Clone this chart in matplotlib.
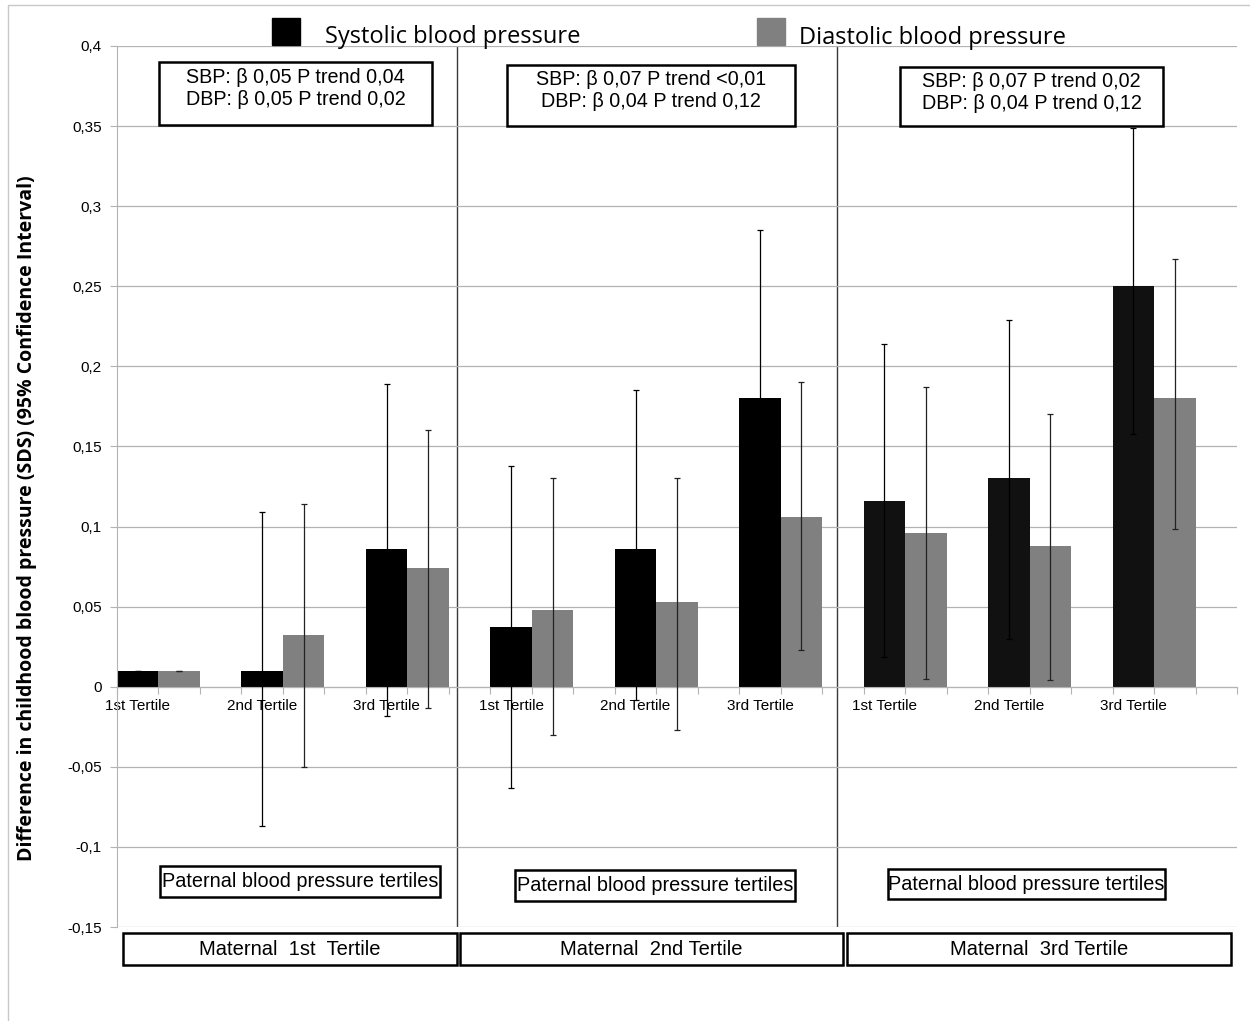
import numpy as np
import matplotlib
matplotlib.use("Agg")
import matplotlib.pyplot as plt
from matplotlib.patches import Rectangle
from matplotlib.lines import Line2D

plt.rcParams["font.family"] = ["Liberation Sans", "DejaVu Sans"]

# data
panels = ["Maternal  1st  Tertile", "Maternal  2nd Tertile", "Maternal  3rd Tertile"]
tertiles = ["1st Tertile", "2nd Tertile", "3rd Tertile"]

sbp = [0.010, 0.010, 0.086, 0.037, 0.086, 0.180, 0.116, 0.130, 0.250]
sbp_lo = [0.010, -0.087, -0.018, -0.063, -0.008, 0.075, 0.0185, 0.030, 0.158]
sbp_hi = [0.010, 0.109, 0.189, 0.138, 0.185, 0.285, 0.214, 0.229, 0.349]

dbp = [0.010, 0.032, 0.074, 0.048, 0.053, 0.106, 0.096, 0.088, 0.180]
dbp_lo = [0.010, -0.050, -0.013, -0.030, -0.027, 0.023, 0.005, 0.004, 0.0985]
dbp_hi = [0.010, 0.114, 0.160, 0.130, 0.130, 0.190, 0.187, 0.170, 0.267]

trend_text = ["SBP: \u03b2 0,05 P trend 0,04\nDBP: \u03b2 0,05 P trend 0,02",
              "SBP: \u03b2 0,07 P trend <0,01\nDBP: \u03b2 0,04 P trend 0,12",
              "SBP: \u03b2 0,07 P trend 0,02\nDBP: \u03b2 0,04 P trend 0,12"]

yticks = [-0.15, -0.1, -0.05, 0, 0.05, 0.1, 0.15, 0.2, 0.25, 0.3, 0.35, 0.4]

W, H = 1250, 1021
fig = plt.figure(figsize=(12.5, 10.21), dpi=100)


def fx(px):
    return px / W


def fy(py):
    return 1 - py / H


ax = fig.add_axes([fx(117), fy(927), fx(1237) - fx(117), fy(46) - fy(927)])

# each paternal tertile takes 3 slots: SBP, DBP, gap
sbp_x = np.array([p * 9 + t * 3 + 0.5 for p in range(3) for t in range(3)])
dbp_x = sbp_x + 1
sbp_cols = ["black"] * 6 + ["#111111"] * 3

ax.bar(sbp_x, sbp, width=1.0, color=sbp_cols, zorder=2)
ax.bar(dbp_x, dbp, width=1.0, color="#808080", zorder=2)

s_err = [np.array(sbp) - np.array(sbp_lo), np.array(sbp_hi) - np.array(sbp)]
d_err = [np.array(dbp) - np.array(dbp_lo), np.array(dbp_hi) - np.array(dbp)]
ax.errorbar(sbp_x, sbp, yerr=s_err, fmt="none", ecolor="black", elinewidth=0.9,
            capsize=2.5, capthick=0.9, zorder=3)
ax.errorbar(dbp_x, dbp, yerr=d_err, fmt="none", ecolor="#222222", elinewidth=0.9,
            capsize=2.5, capthick=0.9, zorder=3)

ax.set_xlim(0, 27)
ax.set_ylim(-0.15, 0.4)
ax.set_yticks(yticks)
ax.set_yticklabels([("%g" % v).replace(".", ",") for v in yticks])
ax.grid(axis="y", color="#b3b3b3", lw=0.9, zorder=0)
ax.tick_params(axis="y", length=5, color="#b3b3b3", pad=6, labelsize=11)

ax.set_xticks(np.arange(28))
ax.set_xticklabels([])
ax.tick_params(axis="x", which="major", length=5, color="#b3b3b3")
ax.set_xticks(sbp_x, tertiles * 3, minor=True)
ax.tick_params(axis="x", which="minor", length=0, pad=9, labelsize=11)

ax.spines["bottom"].set_position(("data", 0))
ax.spines["bottom"].set_color("#b3b3b3")
ax.spines["left"].set_color("#b3b3b3")
ax.spines["top"].set_visible(False)
ax.spines["right"].set_visible(False)

for sep in [8.2, 17.35]:
    ax.axvline(sep, color="#3a3a3a", lw=1.0, zorder=1)

ax.set_ylabel("Difference in childhood blood pressure (SDS) (95% Confidence Interval)",
              fontsize=14, fontweight="bold", family="Open Sans")
ax.yaxis.set_label_coords((37 - 117) / 1120, (927 - 518) / 881, transform=ax.transAxes)


def box(x0, y0, x1, y1, text, size, lw=1.8, dy=0):
    fig.patches.append(Rectangle((fx(x0), fy(y1)), fx(x1) - fx(x0), fy(y0) - fy(y1),
                                 transform=fig.transFigure, facecolor="white",
                                 edgecolor="black", lw=lw, zorder=5))
    fig.text(fx((x0 + x1) / 2), fy((y0 + y1) / 2 + dy), text, ha="center", va="center",
             fontsize=size, zorder=6, linespacing=1.2)


# trend annotation boxes
box(159, 62, 432, 125, trend_text[0], 14.2, dy=-5)
box(507, 65, 795, 126, trend_text[1], 14.2, dy=-5)
box(900, 67, 1163, 126, trend_text[2], 14.2, dy=-4)

# paternal labels
box(160, 866, 440, 897, "Paternal blood pressure tertiles", 14.3)
box(515, 870, 795, 901, "Paternal blood pressure tertiles", 14.3)
box(888, 869, 1165, 899, "Paternal blood pressure tertiles", 14.3)

# maternal labels
box(123, 933, 457, 965, panels[0], 14.5)
box(460, 933, 843, 965, panels[1], 14.5)
box(847, 933, 1231, 965, panels[2], 14.5)

# legend drawn at the top
fig.patches.append(Rectangle((fx(272), fy(45)), fx(300) - fx(272), fy(18) - fy(45),
                             transform=fig.transFigure, color="black"))
fig.text(fx(325), fy(37), "Systolic blood pressure", fontsize=17, family="Open Sans",
         va="center", ha="left")
fig.patches.append(Rectangle((fx(757), fy(45)), fx(785) - fx(757), fy(18) - fy(45),
                             transform=fig.transFigure, color="#808080"))
fig.text(fx(799), fy(38), "Diastolic blood pressure", fontsize=17, family="Open Sans",
         va="center", ha="left")

# thin frame around the chart area
fig.lines.append(Line2D([fx(8), fx(8), 1.0], [0.0, fy(5), fy(5)], transform=fig.transFigure,
                        color="#c8c8c8", lw=1.0))

fig.savefig("out.png", dpi=100)
